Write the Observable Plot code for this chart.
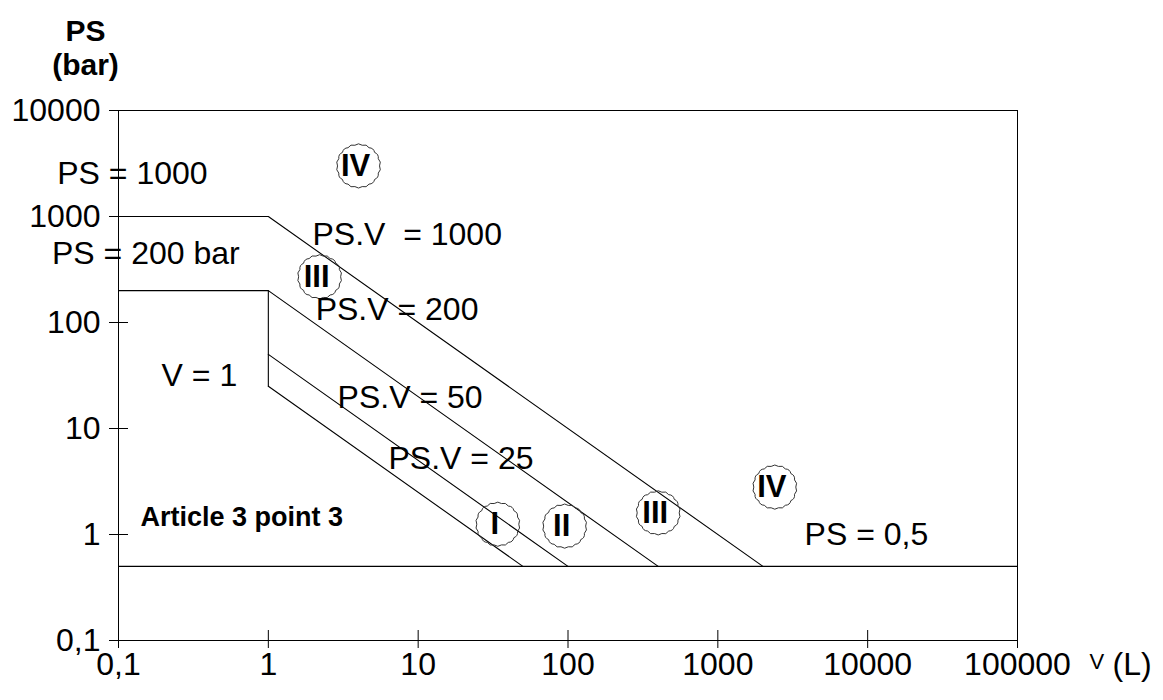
<!DOCTYPE html>
<html><head><meta charset="utf-8">
<script src="https://cdn.jsdelivr.net/npm/d3@7"></script>
<script src="https://cdn.jsdelivr.net/npm/@observablehq/plot@0.6"></script>
<style>
body{margin:0;background:#fff;}
svg text{white-space:pre;}
</style></head><body><div id="chart"></div>
<script>
// Axis ticks
const xTicks = [0.1, 1, 10, 100, 1000, 10000, 100000];
const yTicks = [0.1, 1, 10, 100, 1000, 10000];

// Category boundary lines (V in litres, PS in bar)
const lineIds = ["PS=1000 / PS.V=1000", "PS=200 / PS.V=200", "PS.V=50", "PS.V=25", "V=1", "PS=0,5"];
const lineV  = [[0.1, 1, 2000], [0.1, 1, 400], [1, 100], [1, 50], [1, 1], [0.1, 100000]];
const linePS = [[1000, 1000, 0.5], [200, 200, 0.5], [50, 0.5], [25, 0.5], [200, 25], [0.5, 0.5]];

// Category markers (roman numerals)
const zoneLabels = ["IV", "III", "I", "II", "III", "IV"];
const zoneV  = [4, 2.2, 34, 95, 400, 2400];
const zonePS = [3000, 270, 1.25, 1.2, 1.6, 2.8];

// Annotations
const noteText = ["PS = 1000", "PS = 200 bar", "PS.V\u00a0 = 1000", "PS.V = 200", "V = 1", "PS.V = 50", "PS.V = 25", "PS = 0,5"];
const noteV  = [0.039, 0.036, 1.97, 2.07, 0.194, 2.9, 6.34, 3793];
const notePS = [2547, 448, 676, 133, 31.6, 19.6, 5.2, 1.0];
const articleText = "Article 3 point 3";
const articleV = 0.14, articlePS = 1.45;

const lineRows = lineIds.flatMap((id, i) => lineV[i].map((v, j) => ({id, V: v, PS: linePS[i][j]})));
const zones = zoneLabels.map((t, i) => ({t, V: zoneV[i], PS: zonePS[i]}));
const notes = noteText.map((t, i) => ({t, V: noteV[i], PS: notePS[i]}));
const fmt = d => String(d).replace(".", ",");

const scallop = {draw(ctx, size) {
  const R = Math.sqrt(size / Math.PI), n = 18;
  ctx.moveTo(R, 0);
  for (let i = 0; i < n; i++) {
    const a0 = 2 * Math.PI * i / n, a1 = 2 * Math.PI * (i + 1) / n, am = (a0 + a1) / 2;
    ctx.quadraticCurveTo(R * 1.12 * Math.cos(am), R * 1.12 * Math.sin(am), R * Math.cos(a1), R * Math.sin(a1));
  }
  ctx.closePath();
}};

const font = "Liberation Sans, Arial, sans-serif";
const chart = Plot.plot({
  width: 1163, height: 700,
  marginLeft: 118, marginRight: 146, marginTop: 110, marginBottom: 60,
  style: {fontFamily: font, fontSize: "32px", color: "#000", background: "#fff"},
  x: {type: "log", domain: [0.1, 100000], axis: null},
  y: {type: "log", domain: [0.1, 10000], axis: null},
  marks: [
    Plot.frame({stroke: "#000", strokeWidth: 1}),
    Plot.ruleX(xTicks, {x: d => d, y1: 0.1, y2: 0.1, insetTop: -10, insetBottom: -8, stroke: "#000"}),
    Plot.ruleY(yTicks, {y: d => d, x1: 0.1, x2: 0.1, insetLeft: -9, insetRight: -10, stroke: "#000"}),
    Plot.axisX({ticks: xTicks, tickSize: 0, tickPadding: 12, tickFormat: fmt, fontSize: 32, label: null}),
    Plot.axisY({ticks: yTicks, tickSize: 0, tickPadding: 18, tickFormat: fmt, fontSize: 32, label: null}),
    Plot.line(lineRows, {x: "V", y: "PS", z: "id", stroke: "#000", strokeWidth: 1.1}),
    Plot.dot(zones, {x: "V", y: "PS", r: 21, symbol: scallop, stroke: "#333", strokeWidth: 1, fill: "none"}),
    Plot.text(zones, {x: "V", y: "PS", text: "t", dx: -3, fontWeight: "bold", fontSize: 31}),
    Plot.text(notes, {x: "V", y: "PS", text: "t", textAnchor: "start", fontSize: 32}),
    Plot.text([articleText], {x: () => articleV, y: () => articlePS, text: d => d, textAnchor: "start", fontWeight: "bold", fontSize: 27}),
    Plot.text(["PS\n(bar)"], {frameAnchor: "top-left", text: d => d, textAnchor: "middle", lineAnchor: "middle", dx: -33, dy: -63, fontWeight: "bold", fontSize: 30, lineHeight: 1.12}),
    Plot.text(["V"], {frameAnchor: "bottom-right", text: d => d, textAnchor: "start", dx: 72, dy: 28, fontSize: 22}),
    Plot.text(["(L)"], {frameAnchor: "bottom-right", text: d => d, textAnchor: "start", dx: 95, dy: 34, fontSize: 32})
  ]
});
document.getElementById("chart").appendChild(chart);
</script>
</body></html>
